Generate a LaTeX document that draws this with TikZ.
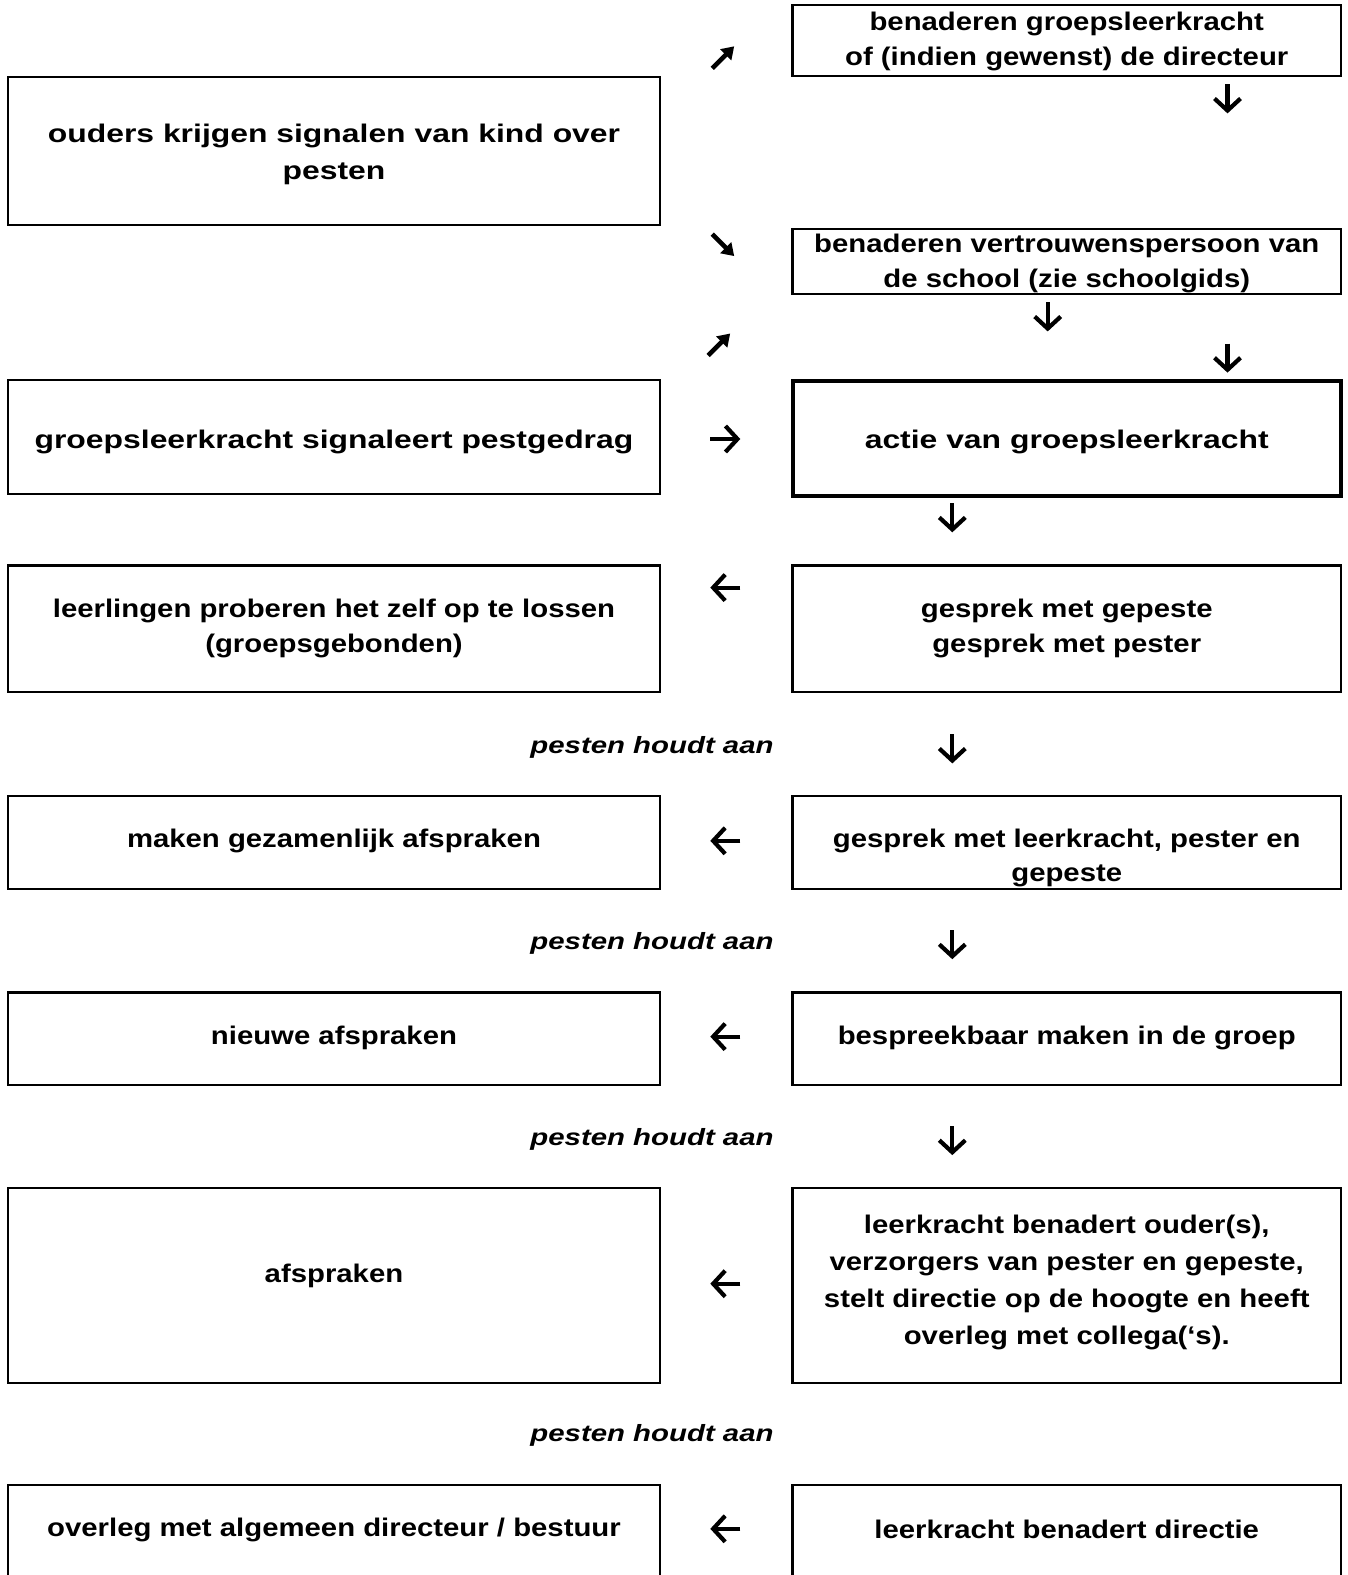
\documentclass[tikz,border=0pt]{standalone}
\usepackage{fontspec}
\setmainfont{Liberation Sans}[FakeStretch=1.25]
\newfontfamily\nrwfont{Liberation Sans}[FakeStretch=1.15]
\usetikzlibrary{arrows.meta}
\begin{document}
\begin{tikzpicture}[x=1pt,y=-1pt,
  box/.style={draw, line width=2.2pt, inner sep=0pt, minimum width=#1},
  lbox/.style={box=652pt},
  rbox/.style={box=548.5pt},
  txt/.style={font=\nrwfont\fontsize{25.5}{34.5}\selectfont\bfseries, align=center, inner sep=0pt},
  txtw/.style={font=\nrwfont\fontsize{25.5}{37}\selectfont\bfseries, align=center, inner sep=0pt},
  wtxt/.style={font=\fontsize{25.5}{37}\selectfont\bfseries, align=center, inner sep=0pt},
  lbl/.style={font=\fontsize{23.5}{28}\selectfont\bfseries\itshape, inner sep=0pt},
  arr/.style={line width=4.2pt, -{Straight Barb[length=12pt,width=26pt]}},
  darr/.style={line width=4.6pt, -{Triangle[length=12pt,width=15pt]}}]
\useasboundingbox (0,0) rectangle (1348,1575);
\clip (0,0) rectangle (1348,1575);
% boxes
\node[rbox, minimum height=71.3pt] (r1) at (1066.75,40.65) {};
\node[lbox, minimum height=147.7pt] (l1) at (334,151.15) {};
\node[rbox, minimum height=65.3pt] (r2) at (1066.75,261.65) {};
\node[lbox, minimum height=114.5pt] (l2) at (334,436.95) {};
\node[rbox, minimum height=115.5pt, line width=4pt] (r3) at (1066.75,438.45) {};
\node[lbox, minimum height=126.6pt] (l3) at (334,628.8) {};
\node[rbox, minimum height=126.6pt] (r4) at (1066.75,628.8) {};
\node[lbox, minimum height=93.4pt] (l4) at (334,842.3) {};
\node[rbox, minimum height=93.4pt] (r5) at (1066.75,842.3) {};
\node[lbox, minimum height=92.5pt] (l5) at (334,1038.65) {};
\node[rbox, minimum height=92.5pt] (r6) at (1066.75,1038.65) {};
\node[lbox, minimum height=194.9pt] (l6) at (334,1285.75) {};
\node[rbox, minimum height=194.9pt] (r7) at (1066.75,1285.75) {};
\node[lbox, minimum height=135.3pt] (l7) at (334,1552.35) {};
\node[rbox, minimum height=135.3pt] (r8) at (1066.75,1552.35) {};
% texts
\node[txt] (t1) at (1066.75,41.7) {benaderen groepsleerkracht\\of (indien gewenst) de directeur};
\node[wtxt] (t2) at (334,154.2) {ouders krijgen signalen van kind over\\pesten};
\node[txt] (t3) at (1066.75,263.6) {benaderen vertrouwenspersoon van\\de school (zie schoolgids)};
\node[wtxt] (t4) at (334,442) {groepsleerkracht signaleert pestgedrag};
\node[wtxt] (t5) at (1066.75,442) {actie van groepsleerkracht};
\node[txt] (t6) at (334,628.3) {leerlingen proberen het zelf op te lossen\\(groepsgebonden)};
\node[txt] (t7) at (1066.75,628.3) {gesprek met gepeste\\gesprek met pester};
\node[txt] (t8) at (334,840.8) {maken gezamenlijk afspraken};
\node[txt] (t9) at (1066.75,857.8) {gesprek met leerkracht, pester en\\gepeste};
\node[txt] (t10) at (334,1037.6) {nieuwe afspraken};
\node[txt] (t11) at (1066.75,1037.6) {bespreekbaar maken in de groep};
\node[txt] (t12) at (334,1275.7) {afspraken};
\node[txtw] (t13) at (1066.75,1282.7) {leerkracht benadert ouder(s),\\verzorgers van pester en gepeste,\\stelt directie op de hoogte en heeft\\overleg met collega(‘s).};
\node[txt] (t14) at (334,1529.8) {overleg met algemeen directeur / bestuur};
\node[txt] (t15) at (1066.75,1529.8) {leerkracht benadert directie};
% labels
\node[lbl] (p1) at (652,747.3) {pesten houdt aan};
\node[lbl] (p2) at (652,943.2) {pesten houdt aan};
\node[lbl] (p3) at (652,1139.1) {pesten houdt aan};
\node[lbl] (p4) at (652,1435.4) {pesten houdt aan};
% arrow glyphs
\coordinate (a1s) at (712.2,68.3); \coordinate (a1e) at (734.2,46.3);
\draw[darr] (a1s) -- (a1e);
\coordinate (a2s) at (1227.5,84.4); \coordinate (a2e) at (1227.5,113.4);
\draw[arr] (a2s) -- (a2e);
\coordinate (a3s) at (712.2,234.1); \coordinate (a3e) at (734.2,256.1);
\draw[darr] (a3s) -- (a3e);
\coordinate (a4s) at (1047.7,302.4); \coordinate (a4e) at (1047.7,331.4);
\draw[arr] (a4s) -- (a4e);
\coordinate (a5s) at (708.2,355.5); \coordinate (a5e) at (730.2,333.5);
\draw[darr] (a5s) -- (a5e);
\coordinate (a6s) at (1227.5,343.6); \coordinate (a6e) at (1227.5,372.6);
\draw[arr] (a6s) -- (a6e);
\coordinate (a7s) at (710.3,439); \coordinate (a7e) at (740.3,439);
\draw[arr] (a7s) -- (a7e);
\coordinate (a8s) at (952.3,503.3); \coordinate (a8e) at (952.3,532.3);
\draw[arr] (a8s) -- (a8e);
\coordinate (a9s) at (740.3,587.6); \coordinate (a9e) at (710.3,587.6);
\draw[arr] (a9s) -- (a9e);
\coordinate (a10s) at (952.3,734.4); \coordinate (a10e) at (952.3,763.4);
\draw[arr] (a10s) -- (a10e);
\coordinate (a11s) at (740.3,840.8); \coordinate (a11e) at (710.3,840.8);
\draw[arr] (a11s) -- (a11e);
\coordinate (a12s) at (952.3,930.2); \coordinate (a12e) at (952.3,959.2);
\draw[arr] (a12s) -- (a12e);
\coordinate (a13s) at (740.3,1036.6); \coordinate (a13e) at (710.3,1036.6);
\draw[arr] (a13s) -- (a13e);
\coordinate (a14s) at (952.3,1126.1); \coordinate (a14e) at (952.3,1155.1);
\draw[arr] (a14s) -- (a14e);
\coordinate (a15s) at (740.3,1283.7); \coordinate (a15e) at (710.3,1283.7);
\draw[arr] (a15s) -- (a15e);
\coordinate (a16s) at (740.3,1528.8); \coordinate (a16e) at (710.3,1528.8);
\draw[arr] (a16s) -- (a16e);
\end{tikzpicture}
\end{document}
